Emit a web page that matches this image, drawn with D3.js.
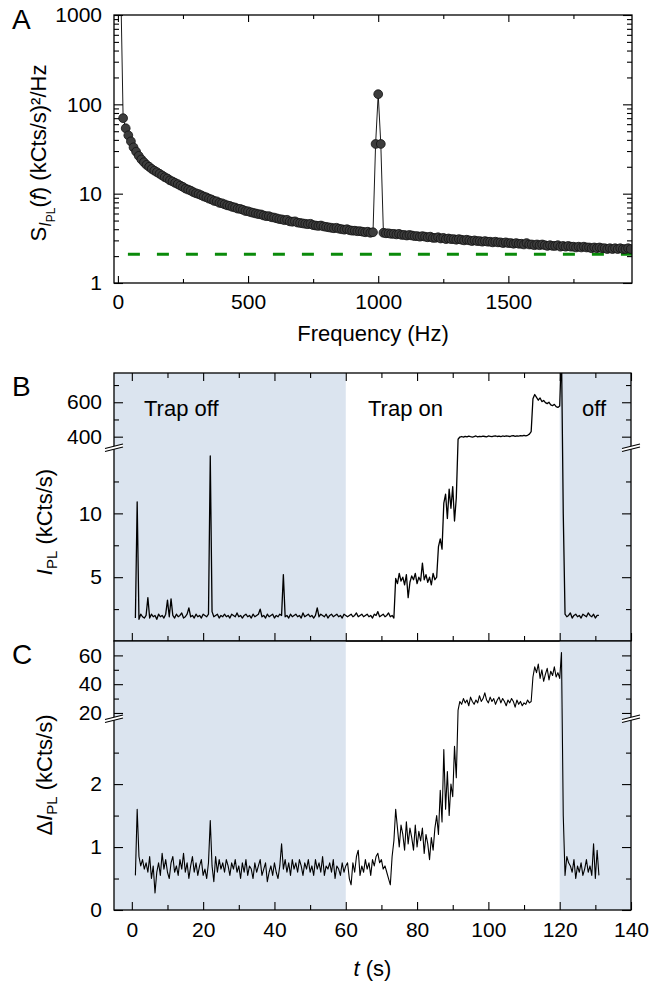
<!DOCTYPE html>
<html><head><meta charset="utf-8">
<script src="https://cdn.jsdelivr.net/npm/d3@7"></script>
<style>
body { margin: 0; background: #fff; }
</style>
</head><body><script>
var FONT = '"Liberation Sans", Arial, sans-serif';

// ---- panel A: noise power spectrum (kCts/s)^2/Hz, every 10 Hz from 10 Hz
var freqStart = 10, freqStep = 10;
var psd = [3000,
  70, 54, 45, 38.5, 33, 29.5, 26.5, 24.2, 22.5, 21,
  20, 18.9, 18.1, 17.4, 16.7, 16, 15.3, 14.8, 14.1, 13.7,
  13.2, 12.8, 12.3, 11.9, 11.4, 11.1, 10.8, 10.4, 10.1, 9.9,
  9.6, 9.3, 9.1, 8.8, 8.6, 8.3, 8.2, 7.9, 7.8, 7.6,
  7.4, 7.3, 7.1, 7.0, 6.8, 6.75, 6.6, 6.4, 6.35, 6.2,
  6.1, 6.0, 5.9, 5.85, 5.7, 5.6, 5.6, 5.45, 5.4, 5.3,
  5.2, 5.15, 5.05, 5.1, 4.9, 4.85, 4.9, 4.75, 4.7, 4.65,
  4.6, 4.55, 4.6, 4.45, 4.4, 4.35, 4.4, 4.3, 4.25, 4.2,
  4.15, 4.1, 4.15, 4.05, 4.0, 3.95, 4.0, 3.9, 3.85, 3.85,
  3.8, 3.8, 3.75, 3.7, 3.75, 3.65, 3.7, 36, 130, 36,
  3.65, 3.6, 3.6, 3.55, 3.55, 3.5, 3.55, 3.45, 3.45, 3.4,
  3.45, 3.4, 3.35, 3.35, 3.3, 3.35, 3.3, 3.25, 3.3, 3.2,
  3.2, 3.25, 3.15, 3.2, 3.1, 3.15, 3.1, 3.1, 3.05, 3.1,
  3.05, 3.0, 3.05, 3.0, 2.95, 3.0, 2.95, 2.95, 2.9, 2.95,
  2.9, 2.9, 2.85, 2.9, 2.85, 2.85, 2.8, 2.85, 2.8, 2.8,
  2.75, 2.8, 2.75, 2.75, 2.7, 2.8, 2.7, 2.7, 2.65, 2.7,
  2.65, 2.7, 2.65, 2.6, 2.65, 2.6, 2.6, 2.65, 2.55, 2.6,
  2.55, 2.6, 2.55, 2.55, 2.5, 2.55, 2.5, 2.55, 2.5, 2.5,
  2.45, 2.5, 2.45, 2.5, 2.45, 2.45, 2.4, 2.45, 2.4, 2.45,
  2.4, 2.45, 2.4, 2.4, 2.45, 2.4];
var noiseFloor = 2.1;
var freqMajor = [0, 500, 1000, 1500];
var freqMinor = [250, 750, 1250, 1750];
var psdMajor = [1, 10, 100, 1000];

// ---- panels B, C: time traces, every 0.5 s from 1 s
var tStart = 1, tStep = 0.5;
var intensity = [
  1.8, 10.9, 1.7, 2.1, 1.9, 1.8, 2.0, 3.4, 1.8, 2.1,
  1.9, 2.0, 1.7, 2.1, 1.9, 2.0, 1.8, 2.1, 3.2, 1.9,
  3.3, 2.0, 1.8, 2.1, 1.9, 2.0, 2.2, 1.8, 1.9, 2.1,
  2.6, 1.9, 2.0, 1.8, 2.1, 1.9, 2.0, 1.8, 2.1, 2.0,
  1.9, 2.1, 14.5, 2.3, 1.9, 2.0, 2.1, 1.8, 2.0, 1.9,
  2.1, 1.9, 2.0, 1.8, 2.1, 2.0, 1.9, 2.2, 1.9, 2.0,
  1.8, 2.0, 2.1, 1.9, 2.0, 1.8, 2.1, 1.9, 2.0, 2.1,
  2.5, 1.9, 2.0, 1.8, 2.1, 1.9, 2.0, 2.1, 1.8, 2.0,
  1.9, 2.1, 2.0, 5.2, 1.9, 2.0, 1.8, 2.1, 1.9, 2.0,
  2.1, 1.9, 2.0, 1.8, 2.2, 1.9, 2.0, 2.1, 1.9, 2.0,
  1.8, 2.0, 2.6, 1.9, 2.1, 2.0, 1.9, 2.1, 1.8, 2.0,
  2.1, 1.9, 2.0, 2.1, 1.9, 2.0, 1.8, 2.1, 2.0, 1.9,
  2.0, 2.1, 1.9, 2.0, 2.2, 1.9, 2.0, 2.1, 1.9, 2.0,
  2.1, 1.9, 2.0, 1.8, 2.1, 2.0, 2.3, 1.9, 2.0, 2.1,
  1.9, 2.0, 2.2, 1.9, 2.0, 1.8, 4.9, 4.5, 5.3, 4.7,
  5.0, 4.4, 5.2, 3.4, 4.6, 5.1, 4.8, 5.3, 4.5, 5.0,
  4.7, 6.1, 4.8, 5.2, 4.6, 5.0, 4.4, 5.3, 4.8, 5.0,
  7.4, 8.0, 7.2, 10.8, 11.5, 9.6, 11.9, 10.4, 12.1, 9.4,
  11.2, 385, 398, 401, 397, 402, 399, 403, 400, 398,
  401, 404, 399, 402, 400, 403, 401, 399, 404, 402,
  400, 403, 405, 401, 403, 400, 404, 402, 405, 403,
  401, 404, 406, 402, 405, 403, 406, 404, 407, 405,
  408, 415, 430, 620, 645, 628, 612, 625, 604, 610,
  598, 592, 600, 585, 580, 588, 575, 570, 578, 900,
  10.0, 2.1, 1.9, 2.0, 2.2, 1.8, 2.0, 2.1, 1.9, 2.0,
  1.8, 2.1, 2.0, 1.9, 2.2, 2.0, 1.9, 2.1, 1.8, 2.0,
  2.0];
var deltaI = [
  0.55, 1.6, 0.85, 0.7, 0.8, 0.65, 0.75, 0.6, 0.85, 0.5,
  0.7, 0.27, 0.6, 0.75, 0.55, 0.9, 0.65, 0.8, 0.6, 0.5,
  0.75, 0.85, 0.6, 0.7, 0.55, 0.8, 0.65, 0.9, 0.6, 0.75,
  0.5, 0.7, 0.85, 0.6, 0.75, 0.55, 0.7, 0.8, 0.55, 0.65,
  0.5, 0.75, 1.42, 0.7, 0.45, 0.85, 0.6, 0.8, 0.65, 0.75,
  0.6, 0.8, 0.7, 0.55, 0.75, 0.65, 0.8, 0.6, 0.7, 0.5,
  0.75, 0.6, 0.8, 0.55, 0.7, 0.65, 0.5, 0.75, 0.6, 0.7,
  0.8, 0.55, 0.65, 0.75, 0.45, 0.6, 0.7, 0.55, 0.75, 0.6,
  0.5, 0.7, 1.05, 0.65, 0.8, 0.6, 0.75, 0.55, 0.8, 0.65,
  0.75, 0.6, 0.8, 0.7, 0.55, 0.75, 0.65, 0.8, 0.6, 0.7,
  0.55, 0.8, 0.65, 0.75, 0.6, 0.85, 0.55, 0.7, 0.65, 0.75,
  0.6, 0.8, 0.5, 0.7, 0.65, 0.55, 0.75, 0.6, 0.7, 0.75,
  0.5, 0.4, 0.75, 0.6, 0.85, 0.95, 0.55, 0.7, 0.6, 0.8,
  0.65, 0.75, 0.55, 0.8, 0.7, 0.85, 0.9, 0.75, 0.8, 0.65,
  0.7, 0.6, 0.5, 0.4, 0.85, 1.1, 1.6, 1.3, 1.0, 1.35,
  1.2, 0.95, 1.4, 1.05, 1.3, 1.15, 0.95, 1.35, 1.0, 1.25,
  1.1, 1.3, 0.9, 1.2, 1.05, 0.8, 1.15, 0.95, 1.3, 1.5,
  1.2, 1.9, 1.4, 2.55, 1.6, 2.2, 1.5, 2.0, 1.8, 2.6,
  2.1, 22, 28, 26, 30, 27, 29, 25, 31, 28,
  26, 29, 27, 32, 28, 30, 34, 29, 27, 31,
  28, 30, 26, 29, 31, 27, 30, 28, 25, 29,
  27, 30, 28, 24, 29, 26, 28, 25, 27, 26,
  29, 27, 28, 45, 52, 48, 54, 44, 50, 42,
  47, 51, 43, 49, 46, 52, 45, 48, 44, 62,
  1.5, 0.55, 0.85, 0.75, 0.7, 0.6, 0.8, 0.5, 0.7, 0.6,
  0.75, 0.55, 0.65, 0.8, 0.6, 0.7, 0.55, 1.05, 0.5, 0.95,
  0.55];
var trapOff = [[-5, 60], [120, 140]];
var timeMajor = [0, 20, 40, 60, 80, 100, 120, 140];
var timeMinor = [10, 30, 50, 70, 90, 110, 130];
var intLowMajor = [5, 10], intLowMinor = [2.5, 7.5, 12.5];
var intUpMajor = [400, 600], intUpMinor = [500, 700];
var dLowMajor = [0, 1, 2], dLowMinor = [0.5, 1.5, 2.5];
var dUpMajor = [20, 40, 60], dUpMinor = [30, 50];

var W = 652, H = 988;
var svg = d3.select("body").append("svg").attr("width", W).attr("height", H)
  .attr("font-family", FONT);

function addAxis(axis, tx, ty) {
  var a = svg.append("g").attr("transform", "translate(" + tx + "," + ty + ")").call(axis);
  a.select(".domain").remove();
  a.attr("font-size", 21).attr("font-family", FONT);
  a.selectAll("line").attr("stroke", "#000").attr("stroke-width", 1.1);
  a.selectAll("text").attr("fill", "#000");
  return a;
}
function frame(x0, y0, x1, y1) {
  svg.append("rect").attr("x", x0).attr("y", y0).attr("width", x1 - x0).attr("height", y1 - y0)
    .attr("fill", "none").attr("stroke", "#000").attr("stroke-width", 1.3);
}
function clip(id, x0, y0, x1, y1) {
  svg.append("clipPath").attr("id", id).append("rect")
    .attr("x", x0).attr("y", y0).attr("width", x1 - x0).attr("height", y1 - y0);
}
function breakMark(x, y) {
  var g = svg.append("g");
  g.append("path").attr("d", "M" + (x - 9) + "," + (y + 1.5) + "L" + (x + 9) + "," + (y - 3) +
    "L" + (x + 9) + "," + (y) + "L" + (x - 9) + "," + (y + 4.5) + "Z").attr("fill", "#fff");
  [0, 3].forEach(function (o) {
    g.append("line").attr("x1", x - 9).attr("y1", y + 1.5 + o).attr("x2", x + 9).attr("y2", y - 3 + o)
      .attr("stroke", "#000").attr("stroke-width", 1.1);
  });
}

// ================= Panel A =================
var ax0 = 114, ax1 = 632, ay0 = 15, ay1 = 283;
var xA = d3.scaleLinear().domain([-15, 1975]).range([ax0, ax1]);
var yA = d3.scaleLog().domain([1, 1000]).range([ay1, ay0]);
clip("clipA", ax0, ay0, ax1, ay1);

var spec = psd.map(function (v, i) { return { f: freqStart + i * freqStep, v: v }; });
var gA = svg.append("g").attr("clip-path", "url(#clipA)");
gA.append("line").attr("x1", xA(0)).attr("x2", ax1).attr("y1", yA(noiseFloor)).attr("y2", yA(noiseFloor))
  .attr("stroke", "#0a8a0a").attr("stroke-width", 3).attr("stroke-dasharray", "12,17")
  .attr("stroke-dashoffset", 19);
gA.append("path").datum(spec)
  .attr("d", d3.line().x(function (d) { return xA(d.f); }).y(function (d) { return yA(d.v); }))
  .attr("fill", "none").attr("stroke", "#000").attr("stroke-width", 0.9);
gA.selectAll("circle").data(spec.slice(1)).enter().append("circle")
  .attr("cx", function (d) { return xA(d.f); })
  .attr("cy", function (d) { return yA(d.v); })
  .attr("r", 4.4).attr("fill", "#3d3d3d").attr("stroke", "#111").attr("stroke-width", 0.8);

var psdMinor = yA.ticks().filter(function (v) { return psdMajor.indexOf(v) < 0; });
addAxis(d3.axisLeft(yA).tickValues(psdMajor).tickSize(-9).tickPadding(12).tickFormat(d3.format("d")), ax0, 0);
addAxis(d3.axisLeft(yA).tickValues(psdMinor).tickSize(-5).tickFormat(""), ax0, 0);
addAxis(d3.axisRight(yA).tickValues(psdMajor).tickSize(-9).tickFormat(""), ax1, 0);
addAxis(d3.axisRight(yA).tickValues(psdMinor).tickSize(-5).tickFormat(""), ax1, 0);
addAxis(d3.axisBottom(xA).tickValues(freqMajor).tickSize(-7).tickPadding(11).tickFormat(d3.format("d")), 0, ay1);
addAxis(d3.axisBottom(xA).tickValues(freqMinor).tickSize(-4).tickFormat(""), 0, ay1);
addAxis(d3.axisTop(xA).tickValues(freqMajor).tickSize(-7).tickFormat(""), 0, ay0);
addAxis(d3.axisTop(xA).tickValues(freqMinor).tickSize(-4).tickFormat(""), 0, ay0);
frame(ax0, ay0, ax1, ay1);

svg.append("text").attr("x", 12).attr("y", 29).attr("font-size", 28).text("A");
svg.append("text").attr("x", (ax0 + ax1) / 2).attr("y", 341).attr("text-anchor", "middle")
  .attr("font-size", 22).text("Frequency (Hz)");
var tA = svg.append("text").attr("transform", "translate(46,153) rotate(-90)")
  .attr("text-anchor", "middle").attr("font-size", 22);
tA.append("tspan").text("S");
tA.append("tspan").attr("font-size", 16).attr("font-style", "italic").attr("dy", 5).text("I");
tA.append("tspan").attr("font-size", 12).attr("dy", 4).text("PL");
tA.append("tspan").attr("dy", -9).text("(");
tA.append("tspan").attr("font-style", "italic").text("f");
tA.append("tspan").text(") (kCts/s)\u00B2/Hz");

// ================= Panels B and C =================
var bx0 = 114, bx1 = 631;
var xT = d3.scaleLinear().domain([-5, 140]).range([bx0, bx1]);
var series = function (arr) { return arr.map(function (v, i) { return { t: tStart + i * tStep, v: v }; }); };

function panel(opt) {
  var yLow = d3.scaleLinear().domain(opt.low).range([opt.bottom, opt.brk]);
  var yUp = d3.scaleLinear().domain(opt.up).range([opt.brk, opt.top]);
  var y = d3.scaleLinear().domain([opt.low[0], opt.low[1], opt.up[0], opt.up[1]])
    .range([opt.bottom, opt.brk, opt.brk, opt.top]);
  var g = svg.append("g");
  trapOff.forEach(function (r) {
    g.append("rect").attr("x", xT(r[0])).attr("y", opt.top).attr("width", xT(r[1]) - xT(r[0]))
      .attr("height", opt.bottom - opt.top).attr("fill", "#dbe4ef");
  });
  clip(opt.id, bx0, opt.top, bx1, opt.bottom);
  g.append("path").datum(series(opt.data)).attr("clip-path", "url(#" + opt.id + ")")
    .attr("d", d3.line().x(function (d) { return xT(d.t); }).y(function (d) { return y(d.v); }))
    .attr("fill", "none").attr("stroke", "#000").attr("stroke-width", opt.lw).attr("stroke-linejoin", "round");

  addAxis(d3.axisLeft(yLow).tickValues(opt.lowMajor).tickSize(-9).tickPadding(12).tickFormat(d3.format("d")), bx0, 0);
  addAxis(d3.axisLeft(yLow).tickValues(opt.lowMinor).tickSize(-5).tickFormat(""), bx0, 0);
  addAxis(d3.axisLeft(yUp).tickValues(opt.upMajor).tickSize(-9).tickPadding(12).tickFormat(d3.format("d")), bx0, 0);
  addAxis(d3.axisLeft(yUp).tickValues(opt.upMinor).tickSize(-5).tickFormat(""), bx0, 0);
  addAxis(d3.axisRight(yLow).tickValues(opt.lowMajor).tickSize(-9).tickFormat(""), bx1, 0);
  addAxis(d3.axisRight(yLow).tickValues(opt.lowMinor).tickSize(-5).tickFormat(""), bx1, 0);
  addAxis(d3.axisRight(yUp).tickValues(opt.upMajor).tickSize(-9).tickFormat(""), bx1, 0);
  addAxis(d3.axisRight(yUp).tickValues(opt.upMinor).tickSize(-5).tickFormat(""), bx1, 0);
  addAxis(d3.axisBottom(xT).tickValues(timeMajor).tickSize(-8).tickPadding(12)
    .tickFormat(opt.xLabels ? d3.format("d") : ""), 0, opt.bottom);
  addAxis(d3.axisBottom(xT).tickValues(timeMinor).tickSize(-5).tickFormat(""), 0, opt.bottom);
  if (opt.topTicks) {
    addAxis(d3.axisTop(xT).tickValues(timeMajor).tickSize(-8).tickFormat(""), 0, opt.top);
    addAxis(d3.axisTop(xT).tickValues(timeMinor).tickSize(-5).tickFormat(""), 0, opt.top);
  }
  frame(bx0, opt.top, bx1, opt.bottom);
  breakMark(bx0, opt.brk);
  breakMark(bx1, opt.brk);
}

panel({ id: "clipB", top: 373, bottom: 641, brk: 447, low: [0, 15.2], up: [340, 770],
  data: intensity, lw: 1.3, lowMajor: intLowMajor, lowMinor: intLowMinor,
  upMajor: intUpMajor, upMinor: intUpMinor, xLabels: false, topTicks: true });
panel({ id: "clipC", top: 641, bottom: 910, brk: 718, low: [0, 3.05], up: [16.5, 70],
  data: deltaI, lw: 1.1, lowMajor: dLowMajor, lowMinor: dLowMinor,
  upMajor: dUpMajor, upMinor: dUpMinor, xLabels: true, topTicks: false });

// annotations
svg.append("text").attr("x", 144).attr("y", 416).attr("font-size", 22).text("Trap off");
svg.append("text").attr("x", 368).attr("y", 416).attr("font-size", 22).text("Trap on");
svg.append("text").attr("x", 582).attr("y", 416).attr("font-size", 22).text("off");
svg.append("text").attr("x", 12).attr("y", 396).attr("font-size", 28).text("B");
svg.append("text").attr("x", 12).attr("y", 664).attr("font-size", 28).text("C");

var tB = svg.append("text").attr("transform", "translate(52,522) rotate(-90)")
  .attr("text-anchor", "middle").attr("font-size", 22);
tB.append("tspan").attr("font-style", "italic").text("I");
tB.append("tspan").attr("font-size", 15).attr("dy", 5).text("PL");
tB.append("tspan").attr("dy", -5).text(" (kCts/s)");

var tC = svg.append("text").attr("transform", "translate(52,775) rotate(-90)")
  .attr("text-anchor", "middle").attr("font-size", 22);
tC.append("tspan").text("\u0394");
tC.append("tspan").attr("font-style", "italic").text("I");
tC.append("tspan").attr("font-size", 15).attr("dy", 5).text("PL");
tC.append("tspan").attr("dy", -5).text(" (kCts/s)");

var tT = svg.append("text").attr("x", (bx0 + bx1) / 2).attr("y", 976).attr("text-anchor", "middle")
  .attr("font-size", 22);
tT.append("tspan").attr("font-style", "italic").text("t");
tT.append("tspan").text(" (s)");
</script></body></html>
